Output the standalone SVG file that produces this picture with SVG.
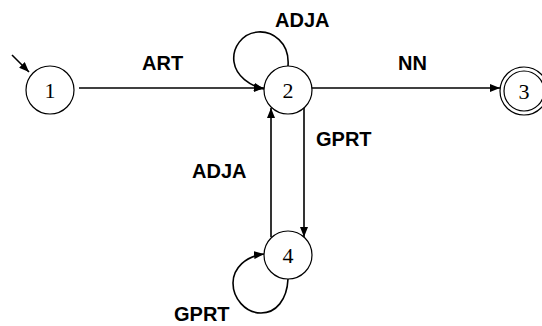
<svg xmlns="http://www.w3.org/2000/svg" width="542" height="326" viewBox="0 0 542 326">
  <style>
    .state { fill: #ffffff; stroke: #000000; stroke-width: 1.2; }
    .num { font-family: "Liberation Serif", "Times New Roman", serif; font-size: 22px; fill: #000000; text-anchor: middle; }
    .edge { fill: none; stroke: #000000; stroke-width: 1.6; marker-end: url(#arrow); }
    .label { font-family: "Liberation Sans", Arial, sans-serif; font-weight: bold; font-size: 20px; fill: #000000; }
  </style>
  <defs>
    <marker id="arrow" viewBox="0 0 10 8" refX="10" refY="4" markerWidth="10" markerHeight="8" markerUnits="userSpaceOnUse" orient="auto">
      <path d="M0,0 L10,4 L0,8 Z" fill="#000000"/>
    </marker>
  </defs>
  <rect width="542" height="326" fill="#ffffff"/>

  <!-- transitions -->
  <g id="connectors">
    <line class="edge" x1="12" y1="55" x2="29" y2="72"/>
    <line class="edge" x1="79" y1="88" x2="264" y2="88"/>
    <line class="edge" x1="311" y1="88" x2="500" y2="88"/>
    <line class="edge" x1="304" y1="108" x2="304" y2="237"/>
    <line class="edge" x1="271" y1="237" x2="271" y2="108"/>
    <path class="edge" d="M288,66 C290,42 272,31 258,32 C242,33 232,48 234,62 C236,76 250,86 264,89"/>
    <path class="edge" d="M288,279 C287,300 276,313 261,313 C245,313 233,298 233,283 C233,268 246,256 264,254"/>
  </g>

  <!-- transition labels -->
  <g id="labels">
    <text class="label" x="142" y="70">ART</text>
    <text class="label" x="275" y="27">ADJA</text>
    <text class="label" x="398" y="70">NN</text>
    <text class="label" x="316" y="146">GPRT</text>
    <text class="label" x="192" y="178">ADJA</text>
    <text class="label" x="174" y="321">GPRT</text>
  </g>

  <!-- states -->
  <g id="s1">
    <circle class="state" cx="50" cy="90" r="24"/>
    <text class="num" x="50" y="98">1</text>
  </g>
  <g id="s2">
    <circle class="state" cx="288" cy="90" r="24"/>
    <text class="num" x="288" y="98">2</text>
  </g>
  <g id="s3">
    <circle class="state" cx="524" cy="91" r="24"/>
    <circle class="state" cx="524" cy="91" r="20"/>
    <text class="num" x="524" y="99">3</text>
  </g>
  <g id="s4">
    <circle class="state" cx="288" cy="255" r="24"/>
    <text class="num" x="288" y="263">4</text>
  </g>
</svg>
